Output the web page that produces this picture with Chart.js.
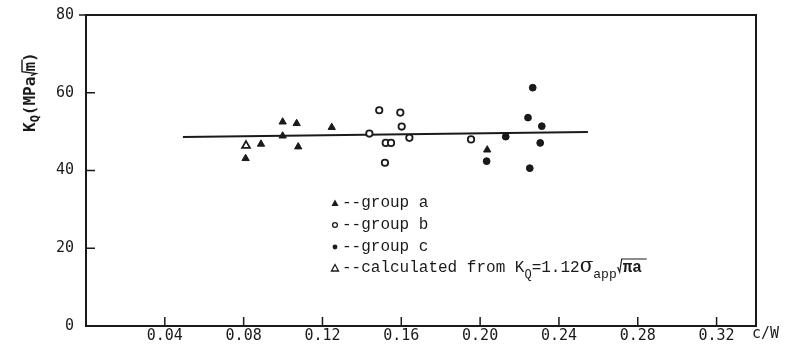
<!DOCTYPE html>
<html>
<head>
<meta charset="utf-8">
<script src="https://cdn.jsdelivr.net/npm/chart.js@4.4.1/dist/chart.umd.min.js"></script>
<style>
  html, body { margin:0; padding:0; background:#fff; }
  #wrap { width:796px; height:347px; }
</style>
</head>
<body>
<div id="wrap"><canvas id="kqChart" width="796" height="347"></canvas></div>
<script>
/* K_Q vs c/W scatter with mean line */

const X_TICKS = [0.04, 0.08, 0.12, 0.16, 0.20, 0.24, 0.28, 0.32];
const Y_TICKS = [0, 20, 40, 60, 80];

// group a - filled triangles
const groupA = [
  {x:0.0810, y:43.1}, {x:0.0888, y:46.8}, {x:0.0998, y:52.5}, {x:0.0998, y:48.9},
  {x:0.1069, y:52.1}, {x:0.1077, y:46.1}, {x:0.1247, y:51.1}, {x:0.2036, y:45.3}
];
// group b - open circles
const groupB = [
  {x:0.1438, y:49.5}, {x:0.1488, y:55.5}, {x:0.1595, y:54.9}, {x:0.1602, y:51.3},
  {x:0.1521, y:47.1}, {x:0.1548, y:47.1}, {x:0.1517, y:42.0}, {x:0.1641, y:48.4},
  {x:0.1954, y:48.0}
];
// group c - filled dots
const groupC = [
  {x:0.2033, y:42.4}, {x:0.2130, y:48.7}, {x:0.2267, y:61.3}, {x:0.2243, y:53.6},
  {x:0.2313, y:51.4}, {x:0.2305, y:47.1}, {x:0.2252, y:40.6}
];
// calculated from K_Q = 1.12 sigma sqrt(pi a)
const calcPts = [ {x:0.0812, y:46.4} ];
// mean line
const meanLine = [ {x:0.0492, y:48.6}, {x:0.2547, y:49.9} ];

const INK = '#1a1a1a';
const MONO = '"DejaVu Sans Mono", monospace';
const TYPE = '"Liberation Mono", "Courier New", monospace';

const framePlugin = {
  id: 'frame',
  beforeDatasetsDraw(chart) {
    const {ctx, chartArea: a, scales} = chart;
    ctx.save();
    ctx.strokeStyle = INK;
    ctx.lineWidth = 2;
    ctx.strokeRect(a.left, a.top, a.right - a.left, a.bottom - a.top);
    ctx.lineWidth = 1.5;
    ctx.beginPath();
    X_TICKS.forEach(v => {
      const px = scales.x.getPixelForValue(v);
      ctx.moveTo(px, a.bottom); ctx.lineTo(px, a.bottom - 9);
    });
    Y_TICKS.forEach(v => {
      const py = scales.y.getPixelForValue(v);
      if (v === Y_TICKS[0]) return;
      if (v === Y_TICKS[Y_TICKS.length - 1]) { ctx.moveTo(a.left - 7, py); ctx.lineTo(a.left, py); }
      else { ctx.moveTo(a.left, py); ctx.lineTo(a.left + 9, py); }
    });
    ctx.stroke();
    ctx.restore();
  },
  afterDraw(chart) {
    const {ctx} = chart;
    ctx.save();
    ctx.fillStyle = INK;
    ctx.strokeStyle = INK;
    ctx.textBaseline = 'alphabetic';

    // x unit
    ctx.font = '15px ' + MONO;
    ctx.fillText('c/W', 752, 338);

    // y title, rotated
    ctx.save();
    ctx.translate(35, 132);
    ctx.rotate(-Math.PI / 2);
    let x = 0;
    ctx.font = 'bold 16px ' + MONO;
    ctx.fillText('K', x, 0); x += ctx.measureText('K').width;
    ctx.font = 'bold 12px ' + MONO;
    ctx.fillText('Q', x, 4); x += ctx.measureText('Q').width;
    ctx.font = 'bold 16px ' + MONO;
    ctx.fillText('(MPa', x, 0); x += ctx.measureText('(MPa').width;
    // radical around m
    ctx.lineWidth = 1.4;
    ctx.beginPath();
    ctx.moveTo(x + 1, -4); ctx.lineTo(x + 3, 1); ctx.lineTo(x + 5, -13); ctx.lineTo(x + 17, -13);
    ctx.stroke();
    x += 5;
    ctx.fillText('m', x, 0); x += ctx.measureText('m').width;
    ctx.fillText(')', x, 0);
    ctx.restore();

    // legend
    const lx = 335, tx = 342;
    const rows = [207, 229, 251, 272];
    ctx.font = '16px ' + TYPE;
    let cy = rows[0] - 4;
    ctx.beginPath(); ctx.moveTo(lx - 3.5, cy + 3); ctx.lineTo(lx + 3.5, cy + 3); ctx.lineTo(lx, cy - 3.5); ctx.closePath(); ctx.fill();
    ctx.fillText('--group a', tx, rows[0]);
    cy = rows[1] - 4;
    ctx.lineWidth = 1.3;
    ctx.beginPath(); ctx.arc(lx, cy, 2.4, 0, Math.PI * 2); ctx.stroke();
    ctx.fillText('--group b', tx, rows[1]);
    cy = rows[2] - 4;
    ctx.beginPath(); ctx.arc(lx, cy, 2.4, 0, Math.PI * 2); ctx.fill();
    ctx.fillText('--group c', tx, rows[2]);
    cy = rows[3] - 4;
    ctx.beginPath(); ctx.moveTo(lx - 3.5, cy + 3); ctx.lineTo(lx + 3.5, cy + 3); ctx.lineTo(lx, cy - 3.5); ctx.closePath(); ctx.stroke();

    let px = tx, by = rows[3];
    const seg = (t, f, dy) => { ctx.font = f; ctx.fillText(t, px, by + dy); px += ctx.measureText(t).width; };
    seg('--calculated from K', '16px ' + TYPE, 0);
    seg('Q', '12px ' + TYPE, 6);
    seg('=1.12', '16px ' + TYPE, 0);
    seg('σ', '20px "DejaVu Serif", serif', 0);
    seg('app', '13px ' + TYPE, 6);
    // radical over pi a
    ctx.lineWidth = 1.2;
    ctx.beginPath();
    ctx.moveTo(px + 1, by - 5); ctx.lineTo(px + 3, by); ctx.lineTo(px + 5, by - 13); ctx.lineTo(px + 30, by - 13);
    ctx.stroke();
    px += 6;
    seg('πa', 'bold 16px ' + TYPE, 0);
    ctx.restore();
  }
};

new Chart(document.getElementById('kqChart'), {
  type: 'scatter',
  data: {
    datasets: [
      { label: 'mean', data: meanLine, showLine: true, borderColor: INK, borderWidth: 2,
        pointRadius: 0, order: 5 },
      { label: 'group a', data: groupA, pointStyle: 'triangle', pointRadius: 4.2,
        backgroundColor: INK, borderColor: INK, borderWidth: 1 },
      { label: 'group b', data: groupB, pointStyle: 'circle', pointRadius: 3.2,
        backgroundColor: '#fff', borderColor: INK, borderWidth: 1.8 },
      { label: 'group c', data: groupC, pointStyle: 'circle', pointRadius: 3.4,
        backgroundColor: INK, borderColor: INK, borderWidth: 1 },
      { label: 'calculated', data: calcPts, pointStyle: 'triangle', pointRadius: 4.5,
        backgroundColor: '#fff', borderColor: INK, borderWidth: 1.8 }
    ]
  },
  options: {
    responsive: false,
    animation: false,
    layout: { padding: { left: 0, right: 40, top: 15, bottom: 0 } },
    plugins: { legend: { display: false }, tooltip: { enabled: false } },
    scales: {
      x: {
        type: 'linear', min: 0, max: 0.34,
        afterBuildTicks: s => { s.ticks = X_TICKS.map(v => ({ value: v })); },
        afterFit: s => { s.height = 21; s.paddingLeft = 0; s.paddingRight = 0; },
        grid: { display: false, drawTicks: false },
        border: { display: false },
        ticks: { padding: 1, color: INK, font: { family: MONO, size: 15 },
                 callback: v => v.toFixed(2) }
      },
      y: {
        type: 'linear', min: 0, max: 80,
        afterBuildTicks: s => { s.ticks = Y_TICKS.map(v => ({ value: v })); },
        afterFit: s => { s.width = 86; s.paddingTop = 0; s.paddingBottom = 0; },
        grid: { display: false, drawTicks: false },
        border: { display: false },
        ticks: { padding: 12, color: INK, font: { family: MONO, size: 15 } }
      }
    }
  },
  plugins: [framePlugin]
});
</script>
</body>
</html>
